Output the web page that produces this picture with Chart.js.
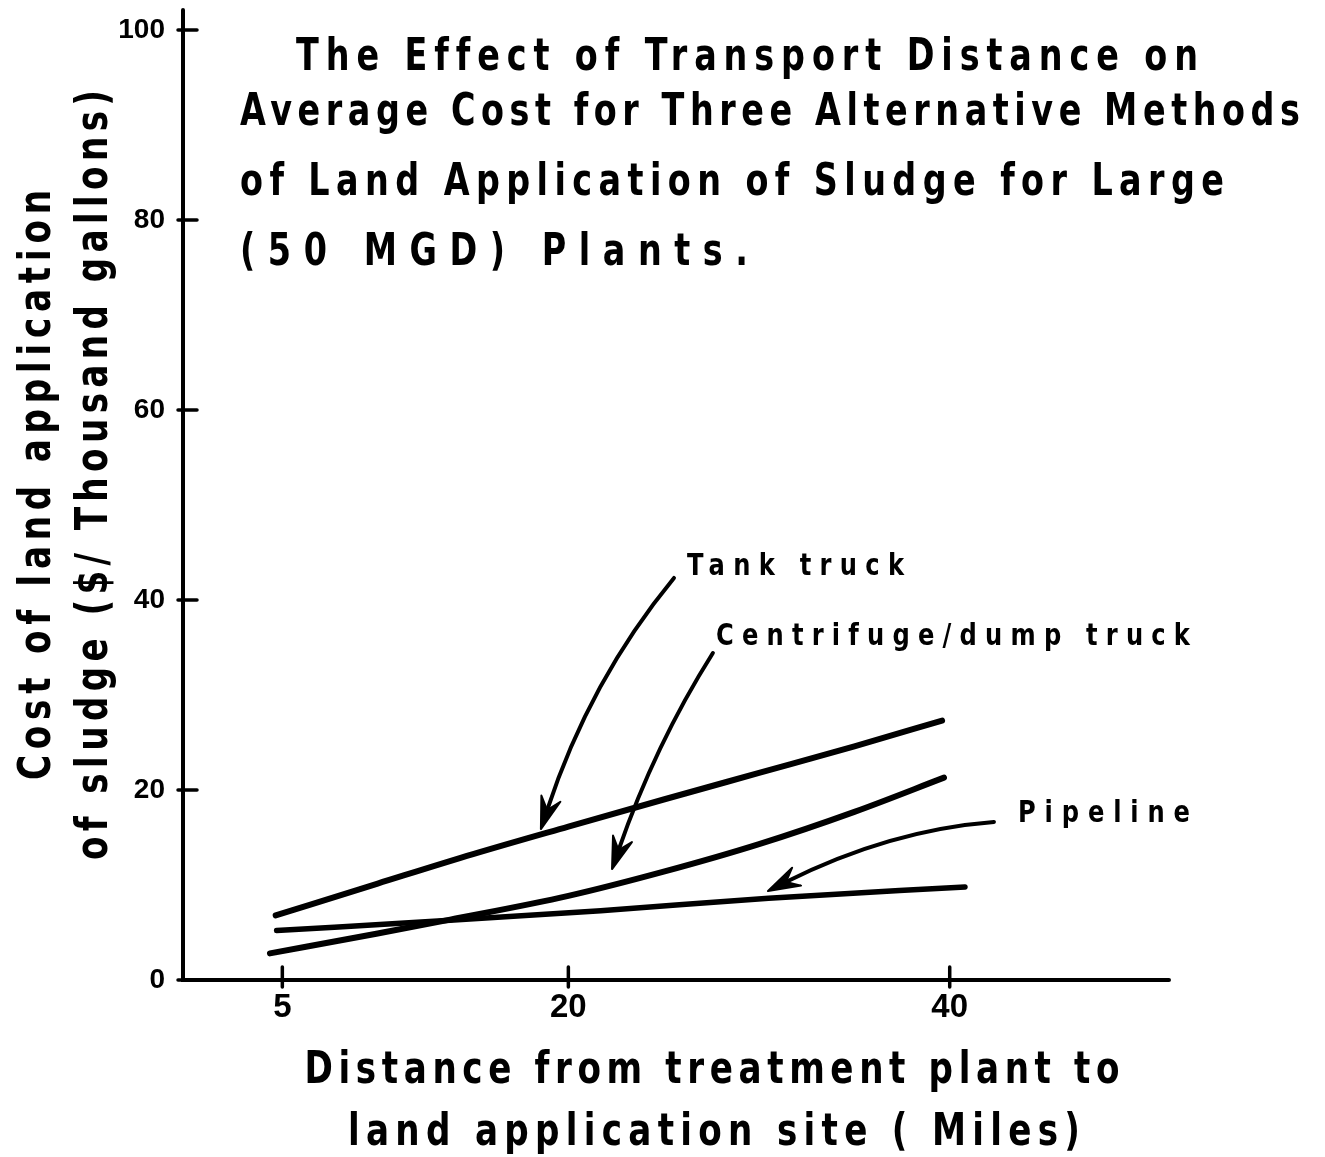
<!DOCTYPE html>
<html>
<head>
<meta charset="utf-8">
<script src="https://cdn.jsdelivr.net/npm/chart.js@4.4.1/dist/chart.umd.min.js"></script>
<style>
html,body{margin:0;padding:0;background:#fff;}
#wrap{width:1325px;height:1157px;position:relative;}
canvas{display:block;}
</style>
</head>
<body>
<div id="wrap"><canvas id="c" width="1325" height="1157"></canvas></div>
<script>
// ---------- data ----------
const titleLines = [
  'The Effect of Transport Distance on',
  'Average Cost for Three Alternative Methods',
  'of Land Application of Sludge for Large',
  '(50 MGD) Plants.'
];
const xAxisTitleLines = ['Distance from treatment plant to', 'land application site ( Miles)'];
const yAxisTitleLines = ['Cost of land application', 'of sludge ($/ Thousand gallons)'];
const xTickValues = [5, 20, 40];
const yTickValues = [0, 20, 40, 60, 80, 100];
const seriesNames = ['Tank truck', 'Centrifuge/dump truck', 'Pipeline'];

const tankX = [4.65, 10, 15, 20, 25, 30, 35, 39.6];
const tankY = [6.8, 10.15, 13.25, 16.15, 19.0, 21.8, 24.6, 27.3];
const centX = [4.35, 10, 13.8, 20, 25, 30, 35, 39.7];
const centY = [2.8, 4.9, 6.35, 8.85, 11.4, 14.3, 17.7, 21.3];
const pipeX = [4.7, 13.8, 21.7, 30.5, 40.8];
const pipeY = [5.2, 6.3, 7.3, 8.6, 9.8];

// callout arrows (data units): start, control, tip
const arrowTank = [[25.54, 42.32], [21.13, 31.58], [18.56, 15.89]];
const arrowCent = [[27.58, 34.42], [24.54, 24.74], [22.29, 11.68]];
const arrowPipe = [[42.32, 16.63], [36.86, 15.79], [30.47, 9.37]];
// callout label anchors (data units, left / baseline)
const labelTank = [26.22, 42.63];
const labelCent = [27.74, 35.26];
const labelPipe = [43.58, 16.63];

// ---------- helpers ----------
const FACE = "'DejaVu Sans', 'Liberation Sans', sans-serif";
const toPts = (xs, ys) => xs.map((x, i) => ({x: x, y: ys[i]}));

// draw text condensed horizontally by k, letter-spaced to fill targetW
function drawSpaced(ctx, text, x, y, font, targetW, align, k) {
  ctx.save();
  ctx.font = font;
  ctx.textAlign = 'left';
  ctx.textBaseline = 'alphabetic';
  const hasLS = ('letterSpacing' in ctx);
  if (hasLS) ctx.letterSpacing = '0px';
  const w0 = ctx.measureText(text).width;
  const sx = align === 'center' ? x - targetW / 2 : x;
  ctx.translate(sx, y);
  if (hasLS) {
    ctx.scale(k, 1);
    const ls = (targetW / k - w0) / Math.max(text.length - 1, 1);
    ctx.letterSpacing = ls + 'px';
  } else {
    ctx.scale(targetW / w0, 1);
  }
  ctx.fillText(text, 0, 0);
  ctx.restore();
}

function drawArrow(ctx, xs, ys, pts) {
  const p0 = [xs.getPixelForValue(pts[0][0]), ys.getPixelForValue(pts[0][1])];
  const c  = [xs.getPixelForValue(pts[1][0]), ys.getPixelForValue(pts[1][1])];
  const p2 = [xs.getPixelForValue(pts[2][0]), ys.getPixelForValue(pts[2][1])];
  let dx = p2[0] - c[0], dy = p2[1] - c[1];
  const len = Math.hypot(dx, dy); dx /= len; dy /= len;
  const px = -dy, py = dx;
  const L = 32, W = 10, N = 20;
  ctx.save();
  ctx.strokeStyle = '#000';
  ctx.fillStyle = '#000';
  ctx.lineWidth = 4;
  ctx.lineCap = 'round';
  ctx.beginPath();
  ctx.moveTo(p0[0], p0[1]);
  ctx.quadraticCurveTo(c[0], c[1], p2[0] - dx * N, p2[1] - dy * N);
  ctx.stroke();
  ctx.lineJoin = 'round';
  ctx.lineWidth = 2;
  ctx.beginPath();
  ctx.moveTo(p2[0], p2[1]);
  ctx.lineTo(p2[0] - dx * L + px * W, p2[1] - dy * L + py * W);
  ctx.lineTo(p2[0] - dx * N, p2[1] - dy * N);
  ctx.lineTo(p2[0] - dx * L - px * W, p2[1] - dy * L - py * W);
  ctx.closePath();
  ctx.fill();
  ctx.stroke();
  ctx.restore();
}

const deco = {
  id: 'deco',
  beforeDatasetsDraw(chart) {
    const ctx = chart.ctx, a = chart.chartArea;
    const xs = chart.scales.x, ys = chart.scales.y;
    const ax = a.left - 4;
    ctx.save();
    ctx.strokeStyle = '#000';
    ctx.lineCap = 'round';
    ctx.lineWidth = 4;
    ctx.beginPath();
    ctx.moveTo(ax, a.top - 20);
    ctx.lineTo(ax, a.bottom);
    ctx.lineTo(a.right, a.bottom);
    ctx.stroke();
    ctx.lineWidth = 3.5;
    yTickValues.forEach(v => {
      const y = ys.getPixelForValue(v);
      ctx.beginPath(); ctx.moveTo(ax - 5, y); ctx.lineTo(ax + 14, y); ctx.stroke();
    });
    xTickValues.forEach(v => {
      const x = xs.getPixelForValue(v);
      ctx.beginPath(); ctx.moveTo(x, a.bottom - 13); ctx.lineTo(x, a.bottom + 7); ctx.stroke();
    });
    ctx.restore();
  },
  afterDatasetsDraw(chart) {
    const ctx = chart.ctx;
    const xs = chart.scales.x, ys = chart.scales.y;
    drawArrow(ctx, xs, ys, arrowTank);
    drawArrow(ctx, xs, ys, arrowCent);
    drawArrow(ctx, xs, ys, arrowPipe);
    ctx.fillStyle = '#000';
    const lf = 'bold 31px ' + FACE;
    const k = 0.78;
    drawSpaced(ctx, seriesNames[0], xs.getPixelForValue(labelTank[0]), ys.getPixelForValue(labelTank[1]), lf, 217, 'left', k);
    drawSpaced(ctx, seriesNames[1], xs.getPixelForValue(labelCent[0]), ys.getPixelForValue(labelCent[1]), lf, 474, 'left', k);
    drawSpaced(ctx, seriesNames[2], xs.getPixelForValue(labelPipe[0]), ys.getPixelForValue(labelPipe[1]), lf, 172, 'left', k);
  },
  afterDraw(chart) {
    const ctx = chart.ctx;
    ctx.save();
    ctx.fillStyle = '#000';
    const k = 0.76;
    const tf = 'bold 44px ' + FACE;
    drawSpaced(ctx, titleLines[0], 296, 70, tf, 900, 'left', k);
    drawSpaced(ctx, titleLines[1], 240, 125, tf, 1060, 'left', k);
    drawSpaced(ctx, titleLines[2], 240, 195, tf, 984, 'left', k);
    drawSpaced(ctx, titleLines[3], 240, 265, tf, 508, 'left', k);
    const af = 'bold 45px ' + FACE;
    drawSpaced(ctx, xAxisTitleLines[0], 712, 1083, af, 815, 'center', k);
    drawSpaced(ctx, xAxisTitleLines[1], 714, 1145, af, 732, 'center', k);
    ctx.save();
    ctx.translate(50, 485);
    ctx.rotate(-Math.PI / 2);
    drawSpaced(ctx, yAxisTitleLines[0], 0, 0, af, 590, 'center', k);
    ctx.restore();
    ctx.save();
    ctx.translate(107, 475);
    ctx.rotate(-Math.PI / 2);
    drawSpaced(ctx, yAxisTitleLines[1], 0, 0, af, 770, 'center', k);
    ctx.restore();
    ctx.restore();
  }
};

const lineStyle = {
  borderColor: '#000',
  borderCapStyle: 'round',
  borderJoinStyle: 'round',
  pointRadius: 0,
  fill: false,
  cubicInterpolationMode: 'monotone'
};

new Chart(document.getElementById('c'), {
  type: 'line',
  data: {
    datasets: [
      Object.assign({label: seriesNames[0], data: toPts(tankX, tankY), borderWidth: 6}, lineStyle),
      Object.assign({label: seriesNames[1], data: toPts(centX, centY), borderWidth: 6}, lineStyle),
      Object.assign({label: seriesNames[2], data: toPts(pipeX, pipeY), borderWidth: 5.5}, lineStyle)
    ]
  },
  options: {
    responsive: false,
    animation: false,
    devicePixelRatio: 1,
    layout: {padding: {left: 0, top: 30, right: 156, bottom: 0}},
    plugins: {legend: {display: false}, tooltip: {enabled: false}, title: {display: false}},
    scales: {
      x: {
        type: 'linear', min: 0, max: 51.5,
        afterBuildTicks: s => { s.ticks = xTickValues.map(v => ({value: v})); },
        afterFit: s => { s.height = 177; s.paddingLeft = 0; s.paddingRight = 0; },
        grid: {display: false, drawTicks: false},
        border: {display: false},
        ticks: {color: '#000', font: {family: "'Liberation Sans', Arial, sans-serif", size: 33, weight: 'bold'}, padding: 8, maxRotation: 0, autoSkip: false}
      },
      y: {
        type: 'linear', min: 0, max: 100,
        afterBuildTicks: s => { s.ticks = yTickValues.map(v => ({value: v})); },
        afterFit: s => { s.width = 187; s.paddingTop = 10; s.paddingBottom = 10; },
        grid: {display: false, drawTicks: false},
        border: {display: false},
        ticks: {color: '#000', font: {family: "'Liberation Sans', Arial, sans-serif", size: 28, weight: 'bold'}, padding: 22, autoSkip: false}
      }
    }
  },
  plugins: [deco]
});
</script>
</body>
</html>
